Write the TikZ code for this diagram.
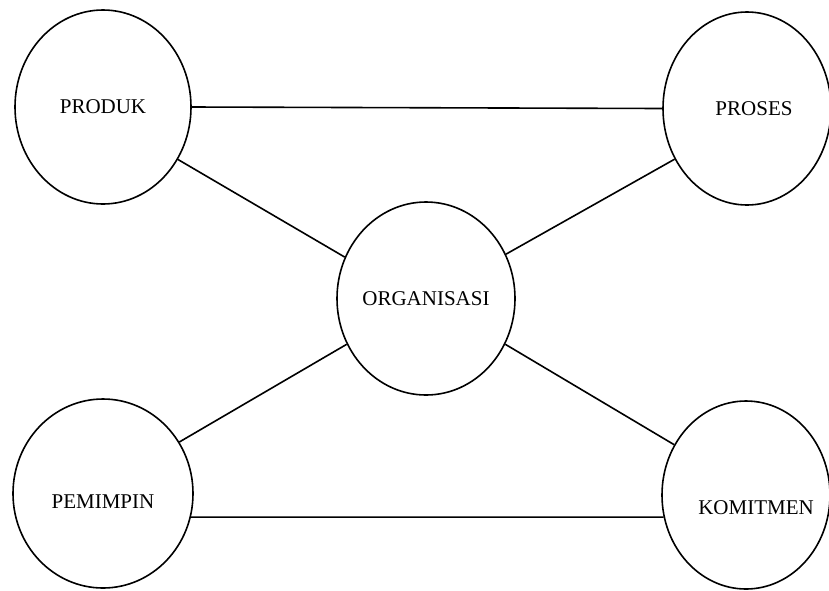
\documentclass[tikz,border=0pt]{standalone}
\usepackage{fontspec}
\setmainfont{Liberation Serif}
\usetikzlibrary{shapes.geometric}

\begin{document}
\begin{tikzpicture}[x=1pt, y=-1pt,
    bubble/.style={draw, ellipse, line width=1.6pt, inner sep=0pt},
    link/.style={line width=1.6pt},
    every label/.style={font=\fontsize{21}{25}\selectfont}]
          \useasboundingbox (0, 0) rectangle (829, 590);
          \node[bubble, minimum width=176pt, minimum height=194pt, label={center:PRODUK}] (produk) at (103, 107) {};
          \node[bubble, minimum width=168pt, minimum height=193pt, label={[xshift=7pt]center:PROSES}] (proses) at (747, 108.5) {};
          \node[bubble, minimum width=178pt, minimum height=193pt, label={center:ORGANISASI}] (organisasi) at (426, 298.5) {};
          \node[bubble, minimum width=180pt, minimum height=189pt, label={[yshift=-8pt]center:PEMIMPIN}] (pemimpin) at (103, 493.5) {};
          \node[bubble, minimum width=168pt, minimum height=188pt, label={[xshift=10pt, yshift=-13pt]center:KOMITMEN}] (komitmen) at (746, 495) {};
          \draw[link] (produk.east) -- (proses.west);
          \draw[link] (produk.-35) -- (organisasi.153);
          \draw[link] (organisasi.29) -- (proses.-145);
          \draw[link] (pemimpin.34) -- (organisasi.210);
          \draw[link] (organisasi.-30) -- (komitmen.145);
          \draw[link] (pemimpin.-15) -- (komitmen.-165);
        \end{tikzpicture}
\end{document}
